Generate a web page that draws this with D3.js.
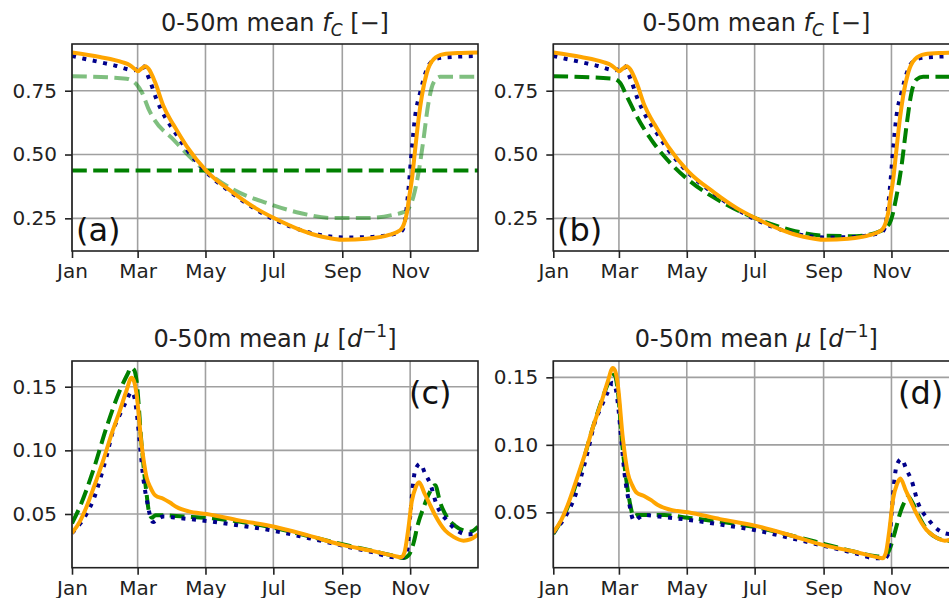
<!DOCTYPE html>
<meta charset="utf-8">
<html>
<style>
  body { margin: 0; background: #fff; }
  svg { display: block; font-family: "DejaVu Sans", sans-serif; }
  .tick text { fill: #222; font-size: 20px; font-family: "DejaVu Sans", sans-serif; }
  .tick line { stroke: #222; stroke-width: 1.6; }
  .grid line { stroke: #a0a0a0; stroke-width: 1.6; }
  .frame { fill: none; stroke: #222; stroke-width: 1.6; }
  .title { font-size: 24px; fill: #222; }
  .plabel { font-size: 32px; fill: #111; }
</style>
<script src="https://cdn.jsdelivr.net/npm/d3@7"></script>
<body>
  <svg class="chart"></svg>
</body>
<script>
  var width = 949;
  var height = 598;

  // x ticks: month index of each labelled tick
  var tickMonths = [0, 2, 4, 6, 8, 10];
  var fcTicks = [0.25, 0.50, 0.75];
  var muTicks = [0.05, 0.10, 0.15];

  // ---- 0-50m mean fC, day of year / value ----
  var fcOrangeDay = [0, 25, 45, 52, 57, 59, 62, 66, 69, 75, 82, 88, 91, 103, 121, 145, 165, 182, 205, 225, 244, 265, 285, 295, 299, 301, 303, 305.5, 308.5, 311.5, 314.5, 319, 325, 334, 350, 365];
  var fcOrange = [0.900, 0.882, 0.862, 0.850, 0.833, 0.826, 0.835, 0.846, 0.835, 0.780, 0.692, 0.640, 0.618, 0.533, 0.435, 0.350, 0.290, 0.250, 0.205, 0.178, 0.166, 0.170, 0.185, 0.203, 0.235, 0.270, 0.330, 0.400, 0.520, 0.637, 0.729, 0.820, 0.873, 0.893, 0.898, 0.900];

  var fcBlueDay = [0, 10, 21, 30, 40, 49, 55, 60, 63, 66, 70, 76, 84, 91, 103, 121, 145, 182, 205, 225, 244, 265, 285, 295, 298, 302.5, 305.5, 308.5, 313, 319, 325, 334, 365];
  var fcBlue = [0.886, 0.876, 0.866, 0.857, 0.847, 0.835, 0.830, 0.838, 0.850, 0.830, 0.790, 0.716, 0.644, 0.597, 0.520, 0.430, 0.345, 0.245, 0.205, 0.183, 0.175, 0.176, 0.185, 0.195, 0.212, 0.363, 0.520, 0.650, 0.742, 0.834, 0.870, 0.880, 0.886];

  // (a) constant run and faded run
  var fcConstDay = [0, 365];
  var fcConst = [0.437, 0.437];

  var fcLightDay = [0, 49, 58, 63, 69, 73, 91, 115, 145, 175, 205, 235, 265, 289, 298, 301, 307, 311.5, 316, 320, 325, 331, 365];
  var fcLight = [0.807, 0.797, 0.775, 0.742, 0.677, 0.644, 0.559, 0.454, 0.363, 0.310, 0.271, 0.251, 0.251, 0.264, 0.274, 0.280, 0.336, 0.428, 0.559, 0.690, 0.781, 0.805, 0.805];

  // (b) green run
  var fcGreenDay = [0, 54, 60, 66, 75, 90, 108, 123, 153, 182, 213, 244, 272, 293.5, 302.5, 308.5, 313, 317.5, 322, 326.5, 332.5, 365];
  var fcGreen = [0.807, 0.797, 0.781, 0.729, 0.650, 0.546, 0.454, 0.395, 0.310, 0.250, 0.205, 0.182, 0.180, 0.199, 0.232, 0.336, 0.454, 0.611, 0.742, 0.794, 0.805, 0.805];

  // ---- 0-50m mean mu, day of year / value ----
  var muOrangeDay = [0, 7, 13, 20, 28, 36, 43, 49, 53.5, 55.5, 58, 62.5, 67, 71, 75, 82, 88, 94, 105, 121, 150, 182, 213, 244, 270, 290, 296, 299, 302, 305.5, 309, 312, 317, 322, 326.5, 335.5, 343, 352, 358, 365];
  var muOrange = [0.035, 0.044, 0.0555, 0.072, 0.092, 0.114, 0.131, 0.147, 0.157, 0.155, 0.1445, 0.105, 0.079, 0.070, 0.0645, 0.062, 0.059, 0.0555, 0.052, 0.050, 0.045, 0.040, 0.033, 0.0255, 0.021, 0.017, 0.016, 0.020, 0.036, 0.060, 0.071, 0.075, 0.066, 0.057, 0.049, 0.037, 0.032, 0.029, 0.030, 0.034];

  var muBlueDay = [0, 7, 13, 20, 25, 31, 37, 43, 49, 53.5, 56, 58, 61, 64, 68.5, 71, 73, 77, 82, 94, 121, 150, 182, 213, 244, 270, 290, 298, 301, 304, 307, 308.5, 313, 317.5, 322, 328, 337, 346, 356, 365];
  var muBlue = [0.035, 0.042, 0.050, 0.063, 0.0765, 0.095, 0.1157, 0.128, 0.139, 0.146, 0.142, 0.131, 0.105, 0.079, 0.0555, 0.046, 0.0437, 0.046, 0.048, 0.047, 0.0445, 0.041, 0.0367, 0.031, 0.025, 0.020, 0.016, 0.016, 0.019, 0.0477, 0.0765, 0.0843, 0.0895, 0.0817, 0.0738, 0.0568, 0.045, 0.037, 0.034, 0.035];

  var muGreenCDay = [0, 7, 19, 31, 43, 50, 53, 56, 58, 62.5, 67, 69.5, 72, 75, 82, 100, 121, 150, 182, 213, 244, 270, 290, 298, 303, 307, 311, 316, 321, 326.5, 331, 337, 344, 352, 358, 365];
  var muGreenC = [0.0427, 0.0555, 0.084, 0.118, 0.147, 0.160, 0.165, 0.163, 0.155, 0.105, 0.066, 0.0505, 0.047, 0.049, 0.049, 0.048, 0.047, 0.044, 0.039, 0.0325, 0.026, 0.021, 0.017, 0.0155, 0.018, 0.027, 0.042, 0.055, 0.066, 0.0725, 0.059, 0.0477, 0.041, 0.037, 0.036, 0.040];

  var muGreenDDay = [0, 12, 24, 36, 48, 52, 55, 58, 62, 66.5, 69.5, 72, 75, 81, 100, 121, 150, 182, 213, 244, 270, 290, 298, 302, 307, 312, 316, 319, 323, 330, 336, 345, 355, 365];
  var muGreenD = [0.034, 0.052, 0.080, 0.114, 0.143, 0.1506, 0.152, 0.140, 0.100, 0.069, 0.0543, 0.047, 0.048, 0.048, 0.048, 0.046, 0.043, 0.039, 0.033, 0.0265, 0.021, 0.0175, 0.017, 0.022, 0.035, 0.050, 0.058, 0.0617, 0.057, 0.045, 0.037, 0.031, 0.029, 0.030];

  var svg = d3.select(".chart")
    .attr("width", width)
    .attr("height", height);

  var t0 = Date.UTC(2001, 0, 1);
  function toDate(d) {
    return new Date(t0 + d * 864e5);
  }
  function zip(days, vals) {
    return days.map(function(d, i) { return [toDate(d), vals[i]]; });
  }

  var styles = {
    orange: { stroke: "#ffa500", dash: null, opacity: 1 },
    blue: { stroke: "#00008b", dash: "4,6.6", opacity: 1 },
    green: { stroke: "#008000", dash: "14.8,6.4", opacity: 1 },
    light: { stroke: "#008000", dash: "14.8,6.4", opacity: 0.5 }
  };

  var panels = [
    { id: "a", left: 72, top: 44, bottom: 251, ydom: [0.122, 0.933], ticks: fcTicks, title: "fc",
      label: "(a)", lx: 76, ly: 241,
      series: [[fcConstDay, fcConst, "green"], [fcLightDay, fcLight, "light"], [fcBlueDay, fcBlue, "blue"], [fcOrangeDay, fcOrange, "orange"]] },
    { id: "b", left: 553.3, top: 44, bottom: 251, ydom: [0.122, 0.933], ticks: fcTicks, title: "fc",
      label: "(b)", lx: 557, ly: 241,
      series: [[fcGreenDay, fcGreen, "green"], [fcBlueDay, fcBlue, "blue"], [fcOrangeDay, fcOrange, "orange"]] },
    { id: "c", left: 72, top: 361, bottom: 567.7, ydom: [0.0078, 0.1702], ticks: muTicks, title: "mu",
      label: "(c)", lx: 409, ly: 404,
      series: [[muGreenCDay, muGreenC, "green"], [muBlueDay, muBlue, "blue"], [muOrangeDay, muOrange, "orange"]] },
    { id: "d", left: 553.3, top: 361, bottom: 567.7, ydom: [0.009, 0.1621], ticks: muTicks, title: "mu",
      label: "(d)", lx: 898, ly: 404,
      series: [[muGreenDDay, muGreenD, "green"], [muBlueDay, muBlue, "blue"], [muOrangeDay, muOrange, "orange"]] }
  ];

  var axWidth = 406;

  panels.forEach(function(p) {
    var x = d3.scaleUtc()
      .domain([toDate(0), toDate(365)])
      .range([p.left, p.left + axWidth]);
    var y = d3.scaleLinear()
      .domain(p.ydom)
      .range([p.bottom, p.top]);

    var g = svg.append("g");

    g.append("clipPath").attr("id", "clip-" + p.id)
      .append("rect")
      .attr("x", p.left).attr("y", p.top)
      .attr("width", axWidth).attr("height", p.bottom - p.top);

    var xTicks = tickMonths.map(function(m) { return new Date(Date.UTC(2001, m, 1)); });

    // grid
    var grid = g.append("g").attr("class", "grid");
    grid.selectAll(".gx").data(xTicks).enter().append("line")
      .attr("x1", function(d) { return x(d); })
      .attr("x2", function(d) { return x(d); })
      .attr("y1", p.top).attr("y2", p.bottom);
    grid.selectAll(".gy").data(p.ticks).enter().append("line")
      .attr("x1", p.left).attr("x2", p.left + axWidth)
      .attr("y1", function(d) { return y(d); })
      .attr("y2", function(d) { return y(d); });

    // lines
    var line = d3.line()
      .x(function(d) { return x(d[0]); })
      .y(function(d) { return y(d[1]); })
      .curve(d3.curveMonotoneX);

    var lines = g.append("g").attr("clip-path", "url(#clip-" + p.id + ")");
    p.series.forEach(function(s) {
      var st = styles[s[2]];
      lines.append("path")
        .datum(zip(s[0], s[1]))
        .attr("fill", "none")
        .attr("stroke", st.stroke)
        .attr("stroke-opacity", st.opacity)
        .attr("stroke-width", 4)
        .attr("stroke-dasharray", st.dash)
        .attr("stroke-linejoin", "round")
        .attr("d", line);
    });

    // axes
    var xAxis = g.append("g")
      .attr("transform", "translate(0," + p.bottom + ")")
      .call(d3.axisBottom(x).tickValues(xTicks).tickFormat(d3.utcFormat("%b"))
        .tickSize(7).tickPadding(6).tickSizeOuter(0));
    xAxis.select(".domain").remove();

    var yAxis = g.append("g")
      .attr("transform", "translate(" + p.left + ",0)")
      .call(d3.axisLeft(y).tickValues(p.ticks).tickFormat(d3.format(".2f"))
        .tickSize(7).tickPadding(8).tickSizeOuter(0));
    yAxis.select(".domain").remove();

    g.append("rect").attr("class", "frame")
      .attr("x", p.left).attr("y", p.top)
      .attr("width", axWidth).attr("height", p.bottom - p.top);

    // title
    var cx = p.left + axWidth / 2;
    var title = g.append("text").attr("class", "title")
      .attr("x", cx).attr("y", p.id == "a" || p.id == "b" ? 31 : 346.5)
      .attr("text-anchor", "middle");
    if (p.title == "fc") {
      title.append("tspan").text("0-50m mean ");
      title.append("tspan").attr("font-style", "italic").text("f");
      title.append("tspan").attr("font-style", "italic").attr("font-size", "17px").attr("dy", 5).text("C");
      title.append("tspan").attr("dy", -5).text(" [\u2212]");
    } else {
      title.append("tspan").text("0-50m mean ");
      title.append("tspan").attr("font-style", "italic").text("\u03bc");
      title.append("tspan").text(" [");
      title.append("tspan").attr("font-style", "italic").text("d");
      title.append("tspan").attr("font-size", "17px").attr("dy", -10).text("\u22121");
      title.append("tspan").attr("dy", 10).text("]");
    }

    g.append("text").attr("class", "plabel")
      .attr("x", p.lx).attr("y", p.ly)
      .text(p.label);
  });
</script>

</html>
